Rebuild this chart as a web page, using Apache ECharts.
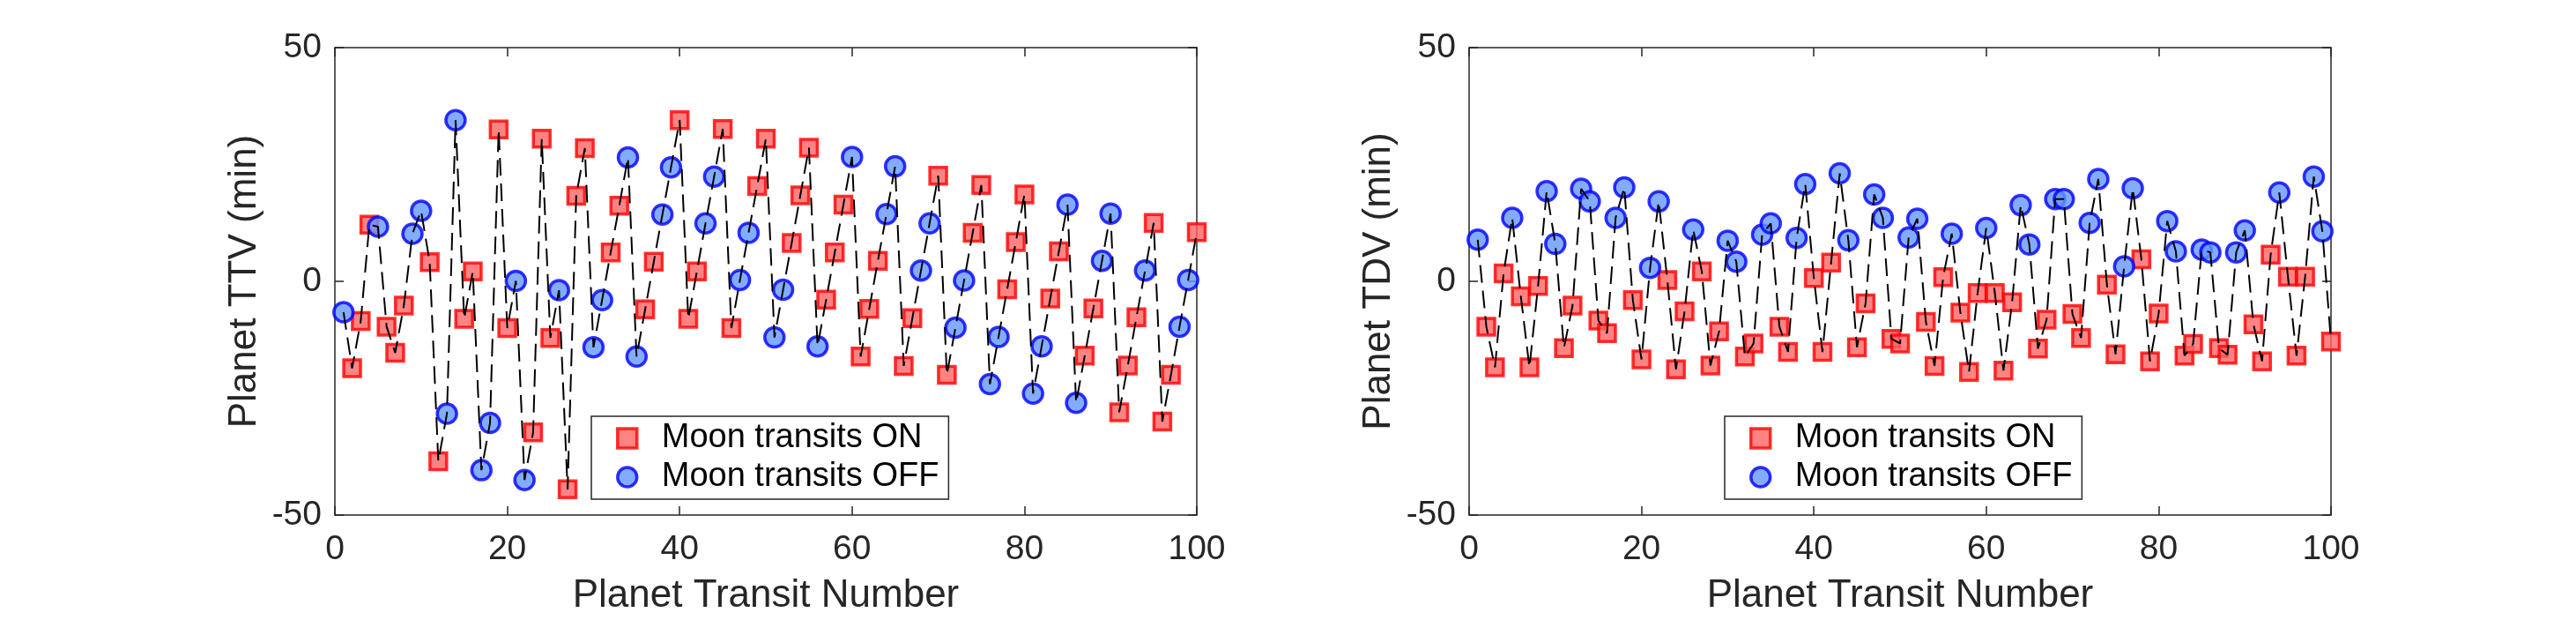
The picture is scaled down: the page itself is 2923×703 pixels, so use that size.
<!DOCTYPE html>
<html>
<head>
<meta charset="utf-8">
<script src="https://cdn.jsdelivr.net/npm/echarts@6/dist/echarts.min.js"></script>
<style>
  html, body { margin: 0; padding: 0; background: #fff; }
  #chart { width: 2923px; height: 703px; }
</style>
</head>
<body>
<div id="chart"></div>
<script>
// planet TTV (min) for transits 1..100
const ttvValues = [
  -6.6, -18.6, -8.5, 12.1, 11.7, -9.7, -15.3, -5.2, 10.2, 15.1,
  4.1, -38.5, -28.3, 34.5, -8.0, 2.1, -40.4, -30.3, 32.5, -10.0,
  0.1, -42.5, -32.3, 30.5, -12.1, -1.9, -44.5, 18.3, 28.5, -14.1,
  -4.0, 6.2, 16.2, 26.5, -16.1, -6.0, 4.2, 14.3, 24.4, 34.5,
  -8.0, 2.1, 12.4, 22.4, 32.6, -10.0, 0.3, 10.4, 20.4, 30.5,
  -12.0, -1.8, 8.2, 18.4, 28.6, -13.9, -3.9, 6.2, 16.4, 26.6,
  -16.1, -5.9, 4.4, 14.4, 24.6, -18.1, -7.9, 2.3, 12.4, 22.6,
  -20.0, -9.9, 0.2, 10.4, 20.6, -22.0, -11.9, -1.7, 8.4, 18.6,
  -24.0, -13.9, -3.7, 6.4, 16.4, -26.0, -15.9, -5.8, 4.4, 14.5,
  -28.0, -18.0, -7.7, 2.3, 12.5, -30.0, -20.0, -9.7, 0.3, 10.5
]
// planet TDV (min) for transits 1..100
const tdvValues = [
  8.9, -9.7, -18.4, 1.7, 13.6, -3.2, -18.4, -1.0, 19.3, 8.0,
  -14.3, -5.2, 19.8, 17.1, -8.4, -11.1, 13.6, 20.1, -4.0, -16.7,
  2.9, 17.1, 0.3, -18.8, -6.4, 11.1, 2.1, -18.0, -10.7, 8.7,
  4.2, -16.1, -13.3, 10.0, 12.4, -9.7, -15.1, 9.3, 20.8, 0.7,
  -15.1, 4.0, 23.1, 8.8, -14.1, -4.7, 18.6, 13.6, -12.3, -13.3,
  9.4, 13.4, -8.7, -18.1, 0.9, 10.2, -6.7, -19.4, -2.5, 11.4,
  -2.5, -19.1, -4.5, 16.3, 7.9, -14.4, -8.2, 17.6, 17.6, -7.0,
  -12.1, 12.5, 21.9, -0.7, -15.6, 3.2, 19.9, 4.7, -17.1, -6.9,
  12.9, 6.4, -15.9, -13.4, 6.8, 6.2, -14.3, -15.7, 6.2, 10.9,
  -9.2, -17.1, 5.7, 19.0, 1.0, -15.9, 1.0, 22.4, 10.7, -12.9
]
// 1 = moon transits ON (red square), 0 = OFF (blue circle)
const moonOn = [
  0, 1, 1, 1, 0, 1, 1, 1, 0, 0,
  1, 1, 0, 0, 1, 1, 0, 0, 1, 1,
  0, 0, 1, 1, 1, 0, 1, 1, 1, 0,
  0, 1, 1, 0, 0, 1, 1, 0, 0, 1,
  1, 1, 0, 0, 1, 1, 0, 0, 1, 1,
  0, 0, 1, 1, 1, 0, 1, 1, 1, 0,
  1, 1, 1, 0, 0, 1, 1, 0, 0, 1,
  1, 0, 0, 1, 1, 0, 0, 1, 1, 1,
  0, 0, 1, 1, 0, 0, 1, 1, 0, 0,
  1, 1, 1, 0, 1, 1, 1, 0, 0, 1
]
const xTicks = [0, 20, 40, 60, 80, 100]
const yTicks = [-50, 0, 50]
const yNames = ['Planet TTV (min)', 'Planet TDV (min)']
const xName = 'Planet Transit Number'
const nameOn = 'Moon transits ON'
const nameOff = 'Moon transits OFF'

const axisClr = '#262626'
const font = 'Liberation Sans, Arial, Helvetica, sans-serif'
const gridLefts = [380, 1667]
const legendLefts = [671, 1957]

const onStyle = { color: '#ff6464', borderColor: '#ff0000', borderWidth: 3.5 }
const offStyle = { color: '#6496ff', borderColor: '#0000ff', borderWidth: 3.5 }

function pts (vals, flag) {
  let out = []
  vals.forEach((v, i) => {
    if (flag === null || moonOn[i] === flag) out.push([i + 1, v])
  })
  return out
}

let grids = []
let xAxes = []
let yAxes = []
let series = []
let legends = []

;[ttvValues, tdvValues].forEach((vals, g) => {
  grids.push({ left: gridLefts[g], top: 54, width: 978, height: 532 })
  let xBase = {
    gridIndex: g,
    type: 'value',
    min: xTicks[0],
    max: xTicks[xTicks.length - 1],
    interval: xTicks[1] - xTicks[0],
    splitLine: { show: false },
    axisLine: { onZero: false, lineStyle: { color: axisClr, width: 1.5 } },
    axisTick: { inside: true, length: 10, lineStyle: { color: axisClr, width: 1.5 } }
  }
  let yBase = {
    gridIndex: g,
    type: 'value',
    min: yTicks[0],
    max: yTicks[yTicks.length - 1],
    interval: yTicks[1] - yTicks[0],
    splitLine: { show: false },
    axisLine: { onZero: false, lineStyle: { color: axisClr, width: 1.5 } },
    axisTick: { inside: true, length: 10, lineStyle: { color: axisClr, width: 1.5 } }
  }
  xAxes.push(Object.assign({}, xBase, {
    position: 'bottom',
    name: xName,
    nameLocation: 'middle',
    nameGap: 70,
    nameTextStyle: { fontFamily: font, fontSize: 44, color: axisClr },
    axisLabel: { margin: 20, fontFamily: font, fontSize: 39, color: axisClr }
  }))
  xAxes.push(Object.assign({}, xBase, { position: 'top', axisLabel: { show: false } }))
  yAxes.push(Object.assign({}, yBase, {
    position: 'left',
    name: yNames[g],
    nameLocation: 'middle',
    nameGap: 80,
    nameTextStyle: { fontFamily: font, fontSize: 44, color: axisClr },
    axisLabel: { margin: 15, fontFamily: font, fontSize: 39, color: axisClr }
  }))
  yAxes.push(Object.assign({}, yBase, { position: 'right', axisLabel: { show: false } }))

  series.push({
    name: nameOn,
    type: 'scatter',
    xAxisIndex: g * 2,
    yAxisIndex: g * 2,
    symbol: 'rect',
    symbolSize: 19,
    itemStyle: onStyle,
    data: pts(vals, 1),
    z: 2
  })
  series.push({
    name: nameOff,
    type: 'scatter',
    xAxisIndex: g * 2,
    yAxisIndex: g * 2,
    symbol: 'circle',
    symbolSize: 22,
    itemStyle: offStyle,
    data: pts(vals, 0),
    z: 2
  })
  series.push({
    name: 'path',
    type: 'line',
    xAxisIndex: g * 2,
    yAxisIndex: g * 2,
    showSymbol: false,
    symbol: 'none',
    lineStyle: { color: '#000', width: 2, type: [20, 9] },
    data: pts(vals, null),
    z: 5,
    silent: true
  })

  legends.push({
    left: legendLefts[g],
    top: 472,
    orient: 'vertical',
    backgroundColor: '#fff',
    borderColor: axisClr,
    borderWidth: 1.5,
    borderRadius: 0,
    padding: [3, 11, 3, 28],
    itemGap: 0,
    itemWidth: 22,
    itemHeight: 22,
    textStyle: { fontFamily: font, fontSize: 38, color: '#000', lineHeight: 44, padding: [0, 0, 0, 23] },
    data: [
      { name: nameOn, icon: 'rect', itemStyle: onStyle },
      { name: nameOff, icon: 'circle', itemStyle: offStyle }
    ],
    z: 10
  })
})

const chart = echarts.init(document.getElementById('chart'), null, { renderer: 'canvas' })
chart.setOption({
  animation: false,
  backgroundColor: '#fff',
  grid: grids,
  xAxis: xAxes,
  yAxis: yAxes,
  legend: legends,
  series: series
})
</script>
</body>
</html>
